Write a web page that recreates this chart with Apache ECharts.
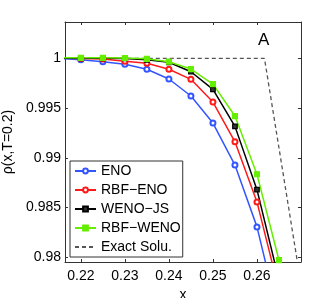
<!DOCTYPE html>
<html><head><meta charset="utf-8">
<script src="https://cdn.jsdelivr.net/npm/echarts@6/dist/echarts.min.js"></script>
<style>html,body{margin:0;padding:0;background:#fff}#c{width:332px;height:298px}</style>
</head><body><div id="c"></div>
<script>
const xValues = [0.215, 0.22, 0.225, 0.23, 0.235, 0.24, 0.245, 0.25, 0.255, 0.26, 0.265];
const eno     = [0.99998, 0.99986, 0.99966, 0.9994, 0.9989, 0.99792, 0.99621, 0.99349, 0.98927, 0.98306, 0.9739];
const rbfEno  = [1.0, 0.99998, 0.99993, 0.9997, 0.9995, 0.9989, 0.99789, 0.9956, 0.99161, 0.98557, 0.9767];
const wenoJs  = [1.0, 1.0, 1.0, 0.99998, 0.99985, 0.9996, 0.99865, 0.99688, 0.99316, 0.9868, 0.9777];
const rbfWeno = [1.00005, 1.00005, 1.00005, 1.00003, 0.99995, 0.99966, 0.99892, 0.99741, 0.9942, 0.98835, 0.97971];
const exactX  = [0.21, 0.2617, 0.2692];
const exactY  = [1.0, 1.0, 0.9795];
const xTicks  = [0.22, 0.23, 0.24, 0.25, 0.26];
const yTicks  = [0.98, 0.985, 0.99, 0.995, 1];
const seriesNames = ['ENO', 'RBF\u2212ENO', 'WENO\u2212JS', 'RBF\u2212WENO', 'Exact Solu.'];

const pairs = (xs, ys) => xs.map((x, i) => [x, ys[i]]);
const FONT = 'Liberation Sans, Arial, sans-serif';
const XMIN = 0.2164, XMAX = 0.2700, YMIN = 0.97953, YMAX = 1.00365;
const axisCol = '#333';

function mk(name, xs, ys, color, symbol, size, extra) {
  return Object.assign({
    name, type: 'line', data: pairs(xs, ys), clip: true,
    symbol, symbolSize: size, showSymbol: true,
    lineStyle: { color, width: 1.5 },
    itemStyle: { color, borderColor: color, borderWidth: 1.2 },
    emphasis: { disabled: true }, animation: false
  }, extra || {});
}

const chart = echarts.init(document.getElementById('c'), null, { renderer: 'canvas' });
chart.setOption({
  animation: false,
  textStyle: { fontFamily: FONT },
  grid: { left: 65, top: 22, right: 31, bottom: 36, show: false, containLabel: false, outerBoundsMode: 'none' },
  xAxis: [{
    type: 'value', min: XMIN, max: XMAX, position: 'bottom',
    name: 'x', nameLocation: 'middle', nameGap: 21,
    nameTextStyle: { fontSize: 14, color: '#000', fontFamily: FONT },
    axisLine: { show: true, onZero: false, lineStyle: { color: axisCol, width: 1 } },
    axisTick: { show: true, inside: true, length: 3, customValues: xTicks, lineStyle: { color: axisCol } },
    axisLabel: { show: true, customValues: xTicks, margin: 7, fontSize: 14, color: '#000', fontFamily: FONT },
    splitLine: { show: false }
  }, {
    type: 'value', min: XMIN, max: XMAX, position: 'top',
    axisLine: { show: true, onZero: false, lineStyle: { color: axisCol, width: 1 } },
    axisTick: { show: true, inside: true, length: 3, customValues: xTicks, lineStyle: { color: axisCol } },
    axisLabel: { show: false }, splitLine: { show: false }
  }],
  yAxis: [{
    type: 'value', min: YMIN, max: YMAX, position: 'left',
    name: '\u03c1(x,T=0.2)', nameLocation: 'middle', nameGap: 48, nameRotate: 90,
    nameTextStyle: { fontSize: 14, color: '#000', fontFamily: FONT },
    axisLine: { show: true, onZero: false, lineStyle: { color: axisCol, width: 1 } },
    axisTick: { show: true, inside: true, length: 3, customValues: yTicks, lineStyle: { color: axisCol } },
    axisLabel: { show: true, customValues: yTicks, margin: 4, fontSize: 14, color: '#000', fontFamily: FONT },
    splitLine: { show: false }
  }, {
    type: 'value', min: YMIN, max: YMAX, position: 'right',
    axisLine: { show: true, onZero: false, lineStyle: { color: axisCol, width: 1 } },
    axisTick: { show: true, inside: true, length: 3, customValues: yTicks, lineStyle: { color: axisCol } },
    axisLabel: { show: false }, splitLine: { show: false }
  }],
  legend: {
    orient: 'vertical', left: 70, top: 161,
    padding: [3, 2, 3, 4], itemGap: 5, itemWidth: 21, itemHeight: 6,
    backgroundColor: '#fff', borderColor: '#333', borderWidth: 1,
    textStyle: { fontSize: 14, color: '#000', fontFamily: FONT, lineHeight: 14 },
    data: [
      seriesNames[0], seriesNames[1], seriesNames[2], seriesNames[3],
      { name: seriesNames[4], itemStyle: { color: 'rgba(0,0,0,0)', borderWidth: 0, opacity: 0 } }
    ]
  },
  graphic: [{
    type: 'text', left: 258, top: 32,
    style: { text: 'A', fontSize: 17, fill: '#000', fontFamily: FONT }
  }],
  series: [
    mk(seriesNames[4], exactX, exactY, '#555', 'none', 0, {
      showSymbol: false,
      lineStyle: { color: '#555', width: 1.3, type: [4, 3] }, itemStyle: { color: '#555' }
    }),
    mk(seriesNames[0], xValues, eno, '#3355ff', 'emptyCircle', 5),
    mk(seriesNames[1], xValues, rbfEno, '#ff1a1a', 'emptyCircle', 5),
    mk(seriesNames[2], xValues, wenoJs, '#000000', 'rect', 4.5, { itemStyle: { color: '#333', borderColor: '#000', borderWidth: 1.2 } }),
    mk(seriesNames[3], xValues, rbfWeno, '#66ee00', 'rect', 5)
  ]
});
</script></body></html>
